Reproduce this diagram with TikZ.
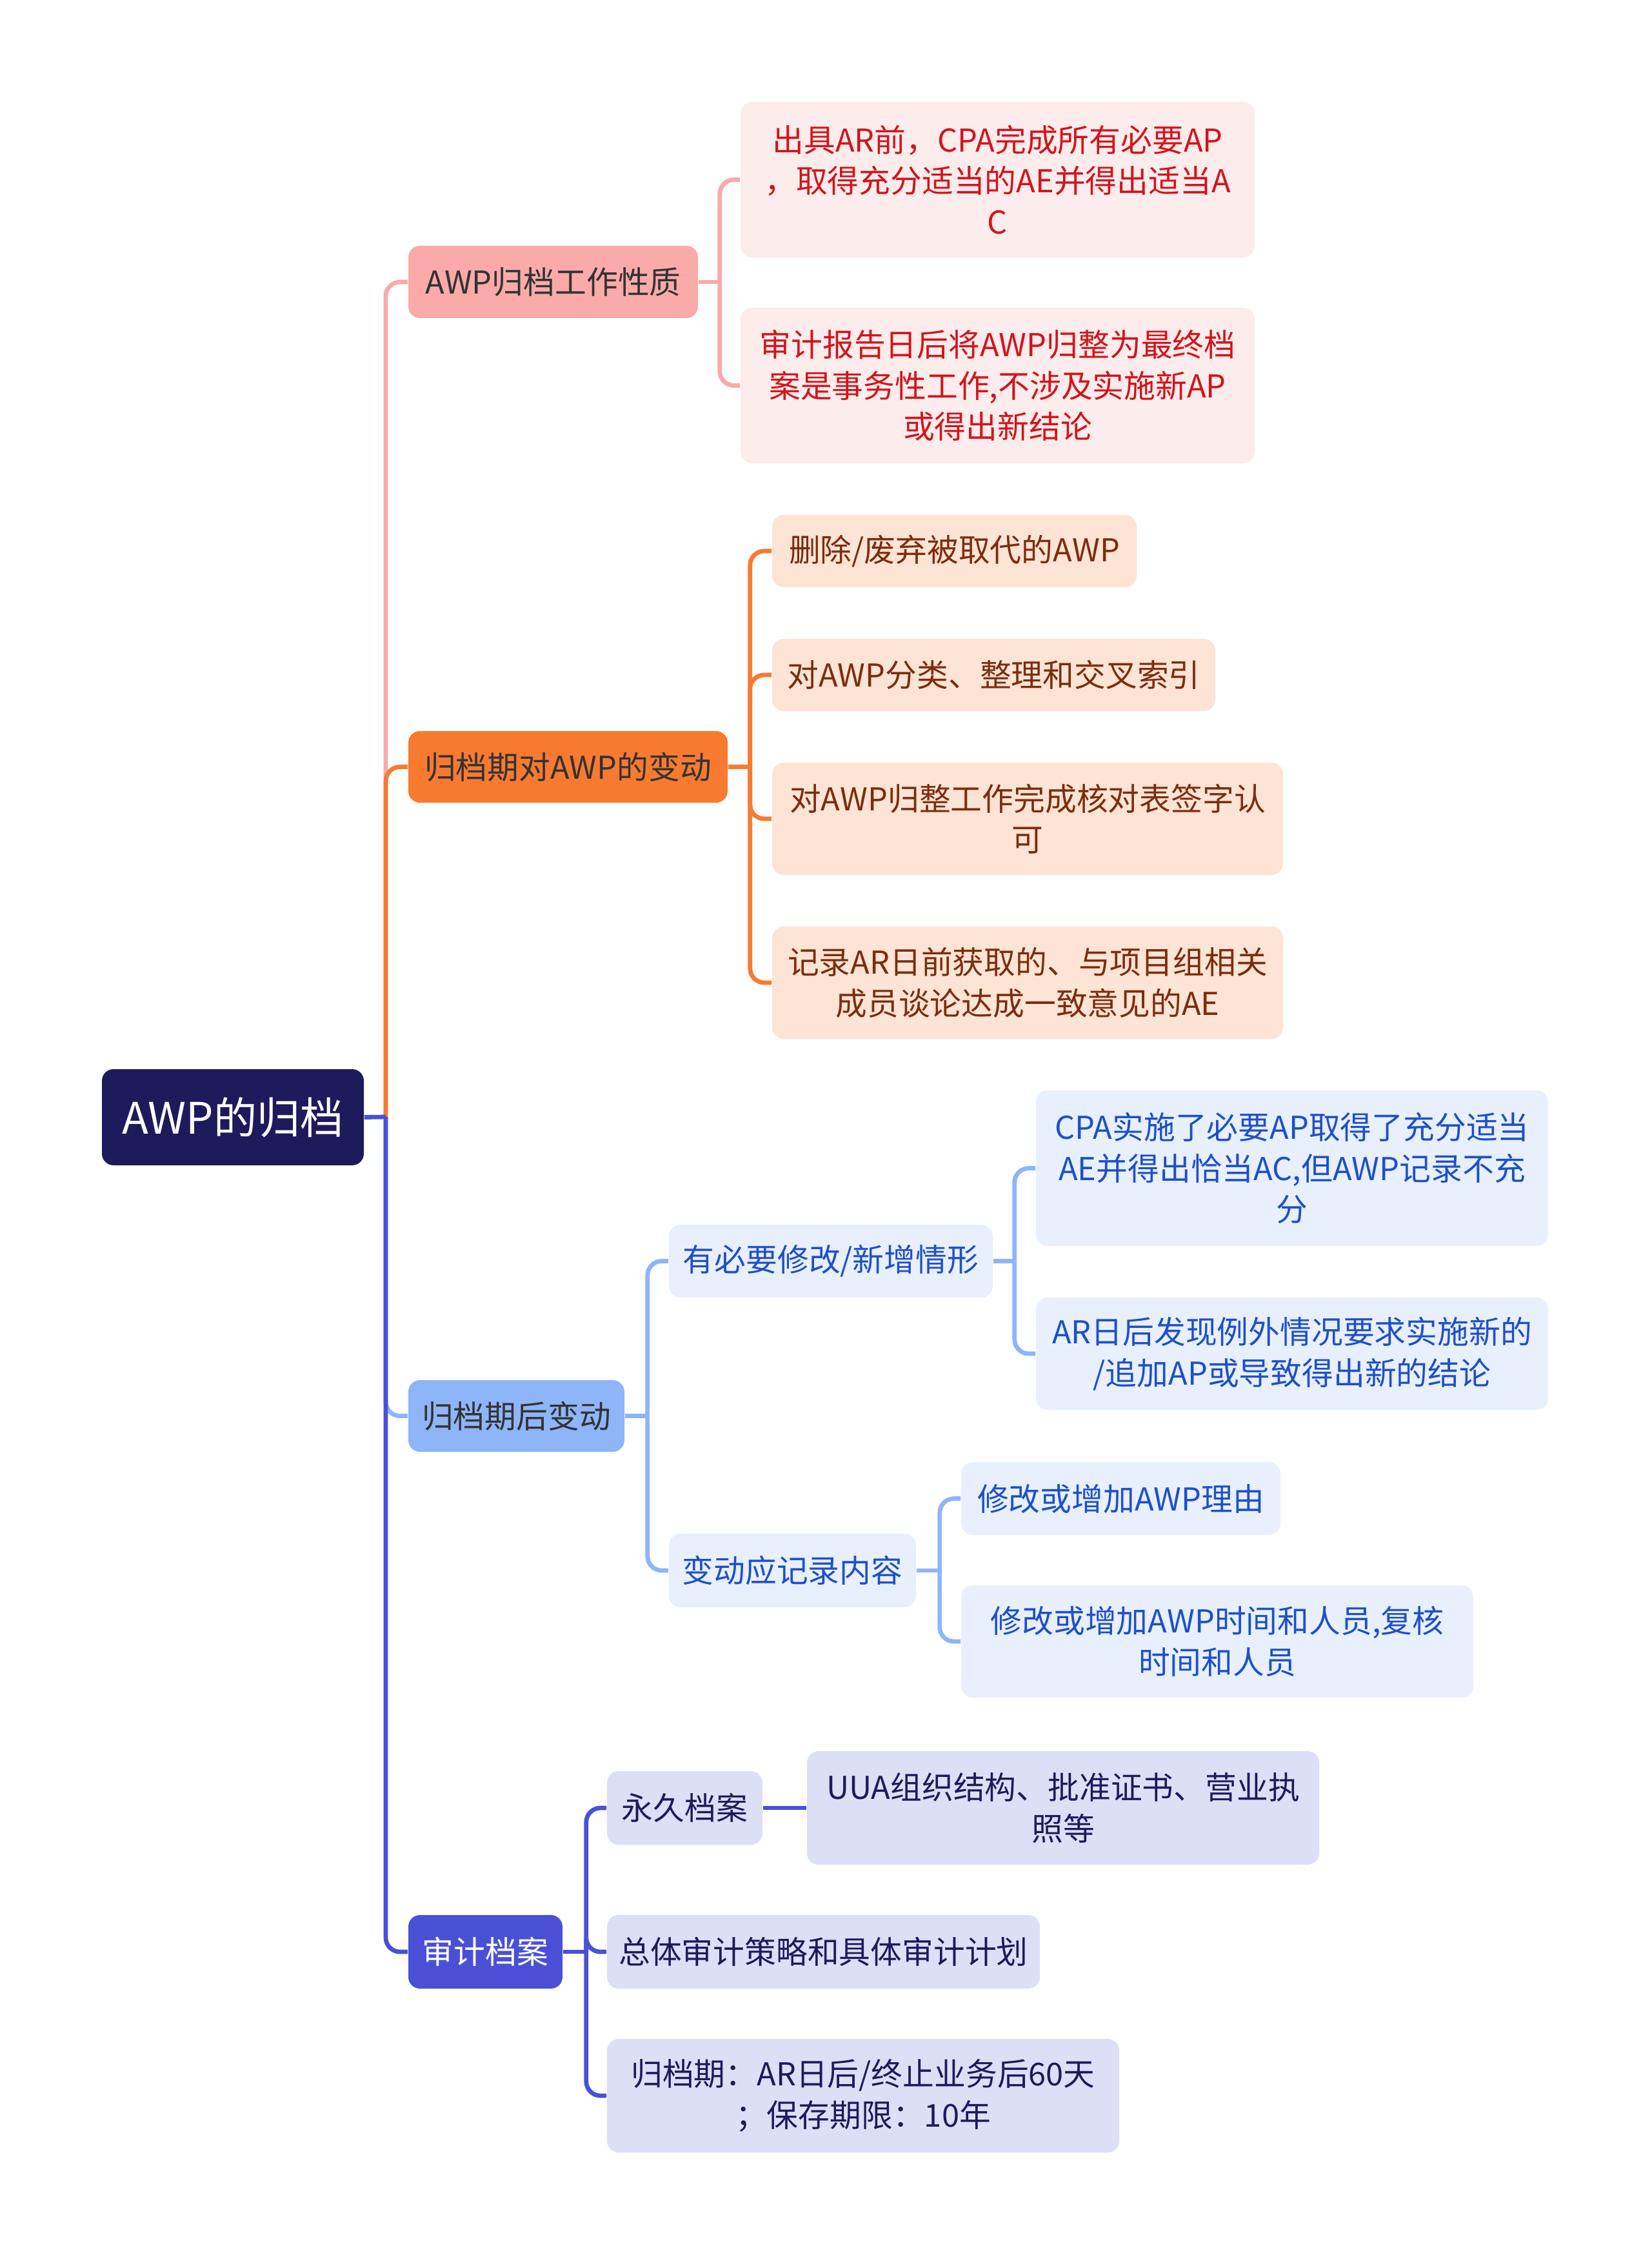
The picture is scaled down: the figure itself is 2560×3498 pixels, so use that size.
\documentclass[tikz,border=0pt]{standalone}
\usepackage{fontspec}
\setmainfont{Noto Sans CJK SC}
\definecolor{navy}{HTML}{1D1B5B}
\definecolor{pinkA}{HTML}{F9AAA9}
\definecolor{pinkB}{HTML}{FDECEC}
\definecolor{pinkT}{HTML}{D2141C}
\definecolor{orgA}{HTML}{F87A30}
\definecolor{orgB}{HTML}{FDE4D5}
\definecolor{orgT}{HTML}{7C2D0F}
\definecolor{bluA}{HTML}{8DB5F8}
\definecolor{bluB}{HTML}{E8F0FE}
\definecolor{bluT}{HTML}{1F4FC9}
\definecolor{indA}{HTML}{4A50D6}
\definecolor{indB}{HTML}{DDDFF7}
\definecolor{darkT}{HTML}{333333}
\tikzset{
  box/.style={rectangle, rounded corners=4.5pt, inner sep=0pt, align=center, font=\fontsize{12.2}{15.9}\selectfont},
  rootbox/.style={box, fill=navy, text=white, font=\fontsize{16.8}{20}\selectfont},
  pone/.style={box, fill=pinkA, text=darkT},
  ptwo/.style={box, fill=pinkB, text=pinkT},
  oone/.style={box, fill=orgA, text=darkT},
  otwo/.style={box, fill=orgB, text=orgT},
  bone/.style={box, fill=bluA, text=darkT},
  btwo/.style={box, fill=bluB, text=bluT},
  ione/.style={box, fill=indA, text=white},
  itwo/.style={box, fill=indB, text=navy},
  ln/.style={line width=1.7pt, rounded corners=5.5pt},
}
\newcommand\bx[7]{\node[#2, minimum width={(#5-#3)*0.25pt}, minimum height={(#6-#4)*0.25pt}] (#1) at ({(#3+#5)/2},{(#4+#6)/2}) {#7};}
\begin{document}
\begin{tikzpicture}[x=0.25pt,y=-0.25pt]
\path[use as bounding box, fill=white] (0,0) rectangle (2560,3498);
% nodes
\bx{root}{rootbox}{158}{1657}{564}{1806}{AWP的归档}
\bx{p0}{pone}{633}{381}{1082}{493}{AWP归档工作性质}
\bx{p1}{ptwo}{1148}{158}{1945}{399}{出具AR前，CPA完成所有必要AP\\，取得充分适当的AE并得出适当A\\C}
\bx{p2}{ptwo}{1148}{477}{1945}{718}{审计报告日后将AWP归整为最终档\\案是事务性工作,不涉及实施新AP\\或得出新结论}
\bx{o0}{oone}{633}{1133}{1128}{1244}{归档期对AWP的变动}
\bx{o1}{otwo}{1197}{798}{1762}{910}{删除/废弃被取代的AWP}
\bx{o2}{otwo}{1197}{990}{1884}{1102}{对AWP分类、整理和交叉索引}
\bx{o3}{otwo}{1197}{1182}{1989}{1356}{对AWP归整工作完成核对表签字认\\可}
\bx{o4}{otwo}{1197}{1436}{1989}{1610}{记录AR日前获取的、与项目组相关\\成员谈论达成一致意见的AE}
\bx{b0}{bone}{633}{2139}{968}{2250}{归档期后变动}
\bx{b1}{btwo}{1037}{1898}{1539}{2011}{有必要修改/新增情形}
\bx{b2}{btwo}{1037}{2377}{1420}{2491}{变动应记录内容}
\bx{b11}{btwo}{1606}{1690}{2400}{1931}{CPA实施了必要AP取得了充分适当\\AE并得出恰当AC,但AWP记录不充\\分}
\bx{b12}{btwo}{1606}{2011}{2400}{2185}{AR日后发现例外情况要求实施新的\\/追加AP或导致得出新的结论}
\bx{b21}{btwo}{1490}{2266}{1985}{2379}{修改或增加AWP理由}
\bx{b22}{btwo}{1490}{2457}{2284}{2631}{修改或增加AWP时间和人员,复核\\时间和人员}
\bx{v0}{ione}{633}{2968}{872}{3082}{审计档案}
\bx{v1}{itwo}{941}{2745}{1182}{2859}{永久档案}
\bx{v11}{itwo}{1251}{2714}{2045}{2890}{UUA组织结构、批准证书、营业执\\照等}
\bx{v2}{itwo}{941}{2968}{1612}{3082}{总体审计策略和具体审计计划}
\bx{v3}{itwo}{941}{3160}{1735}{3336}{归档期：AR日后/终止业务后60天\\；保存期限：10年}
% root connectors
\coordinate (s0) at (598,1731);
\draw[ln, pinkA] (s0) |- (p0.west);
\draw[ln, orgA] (s0) |- (o0.west);
\draw[ln, bluA] (s0) |- (b0.west);
\draw[ln, indA] (s0) |- (v0.west);
\draw[line width=1.7pt, indA] (root.east) -- (s0);
% pink
\draw[line width=1.7pt, pinkA] (p0.east) -- ++(33,0) coordinate (pj);
\draw[ln, pinkA] (pj) |- (p1.west);
\draw[ln, pinkA] (pj) |- (p2.west);
% orange
\draw[line width=1.7pt, orgA] (o0.east) -- ++(34,0) coordinate (oj);
\draw[ln, orgA] (oj) |- (o1.west);
\draw[ln, orgA] (oj) |- (o2.west);
\draw[ln, orgA] (oj) |- (o3.west);
\draw[ln, orgA] (oj) |- (o4.west);
% light blue
\draw[line width=1.7pt, bluA] (b0.east) -- ++(35,0) coordinate (bj);
\draw[ln, bluA] (bj) |- (b1.west);
\draw[ln, bluA] (bj) |- (b2.west);
\draw[line width=1.7pt, bluA] (b1.east) -- ++(33,0) coordinate (b1j);
\draw[ln, bluA] (b1j) |- (b11.west);
\draw[ln, bluA] (b1j) |- (b12.west);
\draw[line width=1.7pt, bluA] (b2.east) -- ++(36,0) coordinate (b2j);
\draw[ln, bluA] (b2j) |- (b21.west);
\draw[ln, bluA] (b2j) |- (b22.west);
% indigo
\draw[line width=1.7pt, indA] (v0.east) -- ++(36,0) coordinate (vj);
\draw[ln, indA] (vj) |- (v1.west);
\draw[ln, indA] (vj) |- (v2.west);
\draw[ln, indA] (vj) |- (v3.west);
\draw[line width=1.7pt, indA] (v1.east) -- (v11.west);
\end{tikzpicture}
\end{document}
